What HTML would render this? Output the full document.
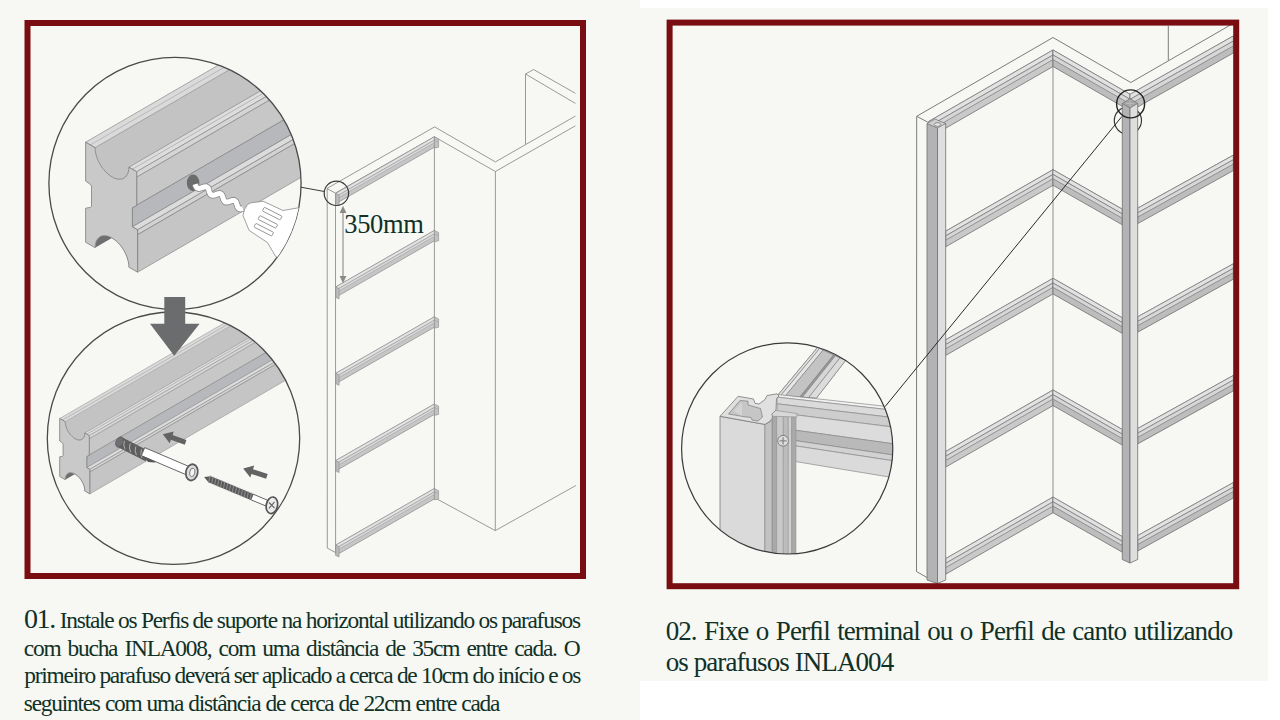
<!DOCTYPE html>
<html><head><meta charset="utf-8"><style>
html,body{margin:0;padding:0;width:1280px;height:720px;overflow:hidden;background:#f7f7f3}
svg{position:absolute;left:0;top:0}
.t{position:absolute;font-family:"Liberation Serif",serif;color:#0f3127;white-space:nowrap;line-height:1}
</style></head><body>
<svg width="1280" height="720" viewBox="0 0 1280 720">
<defs><clipPath id="c1"><circle cx="175" cy="183.4" r="126.1"/></clipPath>
<clipPath id="c2"><circle cx="173.5" cy="438.2" r="126.2"/></clipPath>
<clipPath id="c3"><circle cx="787.2" cy="448.4" r="105.6"/></clipPath></defs>
<rect x="0" y="0" width="1280" height="720" fill="#f7f7f3"/>
<rect x="640" y="0" width="640" height="8" fill="#fff"/>
<rect x="640" y="681" width="640" height="39" fill="#fff"/>
<rect x="1268" y="0" width="12" height="720" fill="#fff"/>
<g clip-path="url(#c1)">
<polygon points="128.9,267.2 128.8,264.6 128.3,261.8 127.6,259 126.6,256.1 125.4,253.3 124,250.6 122.3,247.9 120.5,245.4 118.5,243.2 116.4,241.1 114.2,239.4 112,237.9 109.8,236.8 107.6,236.1 105.6,235.7 103.6,235.7 101.7,236 100.1,236.8 98.6,237.8 97.4,239.3 96.4,241 95.7,243 95.3,245.2 95.1,247.7 371.9,87.1 376.9,76.1 405.7,106.6" fill="#6f6f6f" />
<polygon points="95.1,147.7 95.3,150.3 95.7,153.1 96.4,155.9 97.4,158.8 98.6,161.6 100.1,164.3 101.7,167 103.6,169.5 105.6,171.7 107.6,173.8 109.8,175.5 112,176.9 114.2,178.1 116.4,178.8 118.5,179.2 120.5,179.2 122.3,178.9 124,178.1 400.8,17.5 371.9,-12.9" fill="#c3c3c3" />
<polygon points="85.6,142.2 95.1,147.7 371.9,-12.9 362.4,-18.4" fill="#dadada" stroke="#8a8a8a" stroke-width="0.7" stroke-linejoin="round" />
<line x1="90.4" y1="144.9" x2="367.2" y2="-15.7" stroke="#a3a3a3" stroke-width="0.6" />
<polygon points="128.9,167.2 136.7,171.7 413.5,11.1 405.7,6.6" fill="#dddddd" stroke="#8a8a8a" stroke-width="0.7" stroke-linejoin="round" />
<polygon points="136.7,171.7 136.7,177.2 413.5,16.6 413.5,11.1" fill="#d5d5d5" stroke="#8a8a8a" stroke-width="0.7" stroke-linejoin="round" />
<line x1="132.4" y1="169.2" x2="409.2" y2="8.6" stroke="#9a9a9a" stroke-width="0.6" />
<polygon points="136.7,177.2 136.7,205.7 413.5,45.1 413.5,16.6" fill="#c7c7c7" stroke="#8a8a8a" stroke-width="0.7" stroke-linejoin="round" />
<polygon points="136.7,205.7 132.4,207.7 409.2,47.1 413.5,45.1" fill="#d0d0d0" stroke="#8a8a8a" stroke-width="0.7" stroke-linejoin="round" />
<polygon points="132.4,207.7 132.4,226.8 409.2,66.2 409.2,47.1" fill="#b6b8bb" stroke="#8a8a8a" stroke-width="0.7" stroke-linejoin="round" />
<polygon points="132.4,226.8 137.6,229.8 414.4,69.2 409.2,66.2" fill="#dcdcdc" stroke="#8a8a8a" stroke-width="0.7" stroke-linejoin="round" />
<polygon points="137.6,229.8 137.6,234.7 414.4,74.1 414.4,69.2" fill="#d3d3d3" stroke="#8a8a8a" stroke-width="0.7" stroke-linejoin="round" />
<polygon points="137.6,234.7 137.6,272.2 414.4,111.6 414.4,74.1" fill="#c5c5c5" stroke="#8a8a8a" stroke-width="0.7" stroke-linejoin="round" />
<polygon points="85.6,142.2 95.1,147.7 95.3,150.3 95.7,153.1 96.4,155.9 97.4,158.8 98.6,161.6 100.1,164.3 101.7,167 103.6,169.5 105.6,171.7 107.6,173.8 109.8,175.5 112,176.9 114.2,178.1 116.4,178.8 118.5,179.2 120.5,179.2 122.3,178.9 124,178.1 125.4,177.1 126.6,175.6 127.6,173.9 128.3,171.9 128.8,169.7 128.9,167.2 136.7,171.7 136.7,205.7 132.4,207.7 132.4,226.8 137.6,229.8 137.6,272.2 128.9,267.2 128.8,264.6 128.3,261.8 127.6,259 126.6,256.1 125.4,253.3 124,250.6 122.3,247.9 120.5,245.4 118.5,243.2 116.4,241.1 114.2,239.4 112,237.9 109.8,236.8 107.6,236.1 105.6,235.7 103.6,235.7 101.7,236 100.1,236.8 98.6,237.8 97.4,239.3 96.4,241 95.7,243 95.3,245.2 95.1,247.7 85.6,242.2 85.6,208.2 90.4,207.4 91.5,206.1 91.5,186.1 90.4,184.4 85.6,181" fill="#c9c9c9" stroke="#7d7d7d" stroke-width="0.8" stroke-linejoin="round" />
</g>
<g clip-path="url(#c2)">
<polygon points="84.8,491 84.7,489.5 84.5,487.9 84.1,486.2 83.5,484.6 82.8,482.9 81.9,481.3 81,479.8 79.9,478.4 78.8,477.1 77.6,475.9 76.3,474.9 75,474 73.7,473.4 72.5,473 71.3,472.7 70.1,472.7 69.1,472.9 68.1,473.3 67.2,474 66.5,474.8 66,475.8 65.6,477 65.3,478.3 65.2,479.7 342,319.1 344.9,312.7 361.6,330.4" fill="#6f6f6f" />
<polygon points="65.2,421.7 65.3,423.2 65.6,424.8 66,426.4 66.5,428.1 67.2,429.7 68.1,431.3 69.1,432.9 70.1,434.3 71.3,435.6 72.5,436.8 73.7,437.8 75,438.7 76.3,439.3 77.6,439.7 78.8,440 79.9,440 81,439.8 81.9,439.3 358.7,278.7 342,261.1" fill="#c3c3c3" />
<polygon points="59.7,418.5 65.2,421.7 342,261.1 336.5,257.9" fill="#dadada" stroke="#8a8a8a" stroke-width="0.5" stroke-linejoin="round" />
<line x1="62.5" y1="420.1" x2="339.3" y2="259.5" stroke="#a3a3a3" stroke-width="0.6" />
<polygon points="84.8,433 89.3,435.6 366.1,275 361.6,272.4" fill="#dddddd" stroke="#8a8a8a" stroke-width="0.5" stroke-linejoin="round" />
<polygon points="89.3,435.6 89.3,438.8 366.1,278.2 366.1,275" fill="#d5d5d5" stroke="#8a8a8a" stroke-width="0.5" stroke-linejoin="round" />
<line x1="86.8" y1="434.2" x2="363.6" y2="273.5" stroke="#9a9a9a" stroke-width="0.6" />
<polygon points="89.3,438.8 89.3,455.3 366.1,294.7 366.1,278.2" fill="#c7c7c7" stroke="#8a8a8a" stroke-width="0.5" stroke-linejoin="round" />
<polygon points="89.3,455.3 86.8,456.5 363.6,295.9 366.1,294.7" fill="#d0d0d0" stroke="#8a8a8a" stroke-width="0.5" stroke-linejoin="round" />
<polygon points="86.8,456.5 86.8,467.6 363.6,306.9 363.6,295.9" fill="#b6b8bb" stroke="#8a8a8a" stroke-width="0.5" stroke-linejoin="round" />
<polygon points="86.8,467.6 89.8,469.3 366.6,308.7 363.6,306.9" fill="#dcdcdc" stroke="#8a8a8a" stroke-width="0.5" stroke-linejoin="round" />
<polygon points="89.8,469.3 89.8,472.1 366.6,311.5 366.6,308.7" fill="#d3d3d3" stroke="#8a8a8a" stroke-width="0.5" stroke-linejoin="round" />
<polygon points="89.8,472.1 89.8,493.9 366.6,333.3 366.6,311.5" fill="#c5c5c5" stroke="#8a8a8a" stroke-width="0.5" stroke-linejoin="round" />
<polygon points="59.7,418.5 65.2,421.7 65.3,423.2 65.6,424.8 66,426.4 66.5,428.1 67.2,429.7 68.1,431.3 69.1,432.9 70.1,434.3 71.3,435.6 72.5,436.8 73.7,437.8 75,438.7 76.3,439.3 77.6,439.7 78.8,440 79.9,440 81,439.8 81.9,439.3 82.8,438.7 83.5,437.9 84.1,436.9 84.5,435.7 84.7,434.4 84.8,433 89.3,435.6 89.3,455.3 86.8,456.5 86.8,467.6 89.8,469.3 89.8,493.9 84.8,491 84.7,489.5 84.5,487.9 84.1,486.2 83.5,484.6 82.8,482.9 81.9,481.3 81,479.8 79.9,478.4 78.8,477.1 77.6,475.9 76.3,474.9 75,474 73.7,473.4 72.5,473 71.3,472.7 70.1,472.7 69.1,472.9 68.1,473.3 67.2,474 66.5,474.8 66,475.8 65.6,477 65.3,478.3 65.2,479.7 59.7,476.5 59.7,456.8 62.5,456.3 63.1,455.6 63.1,444 62.5,443 59.7,441" fill="#c9c9c9" stroke="#7d7d7d" stroke-width="0.8" stroke-linejoin="round" />
</g>
<circle cx="175" cy="183.4" r="126.1" fill="none" stroke="#4a4a4a" stroke-width="1.3"/>
<circle cx="173.5" cy="438.2" r="126.2" fill="none" stroke="#4a4a4a" stroke-width="1.3"/>
<polygon points="164.3,297 185.2,297 185.2,323.8 199.6,323.8 174.2,355.8 150,323.8 164.3,323.8" fill="#6b6c6e" />
<g clip-path="url(#c1)">
<ellipse cx="193.1" cy="182.8" rx="6.3" ry="8.3" fill="#6c6c6c"/>
<path d="M195.2 184.2 L195.4 184.9 L195.6 185.6 L195.9 186.2 L196.2 186.8 L196.5 187.3 L196.8 187.7 L197.2 188.0 L197.6 188.3 L198.1 188.4 L198.7 188.5 L199.2 188.5 L199.8 188.4 L200.5 188.2 L201.1 188.0 L201.8 187.7 L202.5 187.5 L203.2 187.2 L203.8 187.0 L204.5 186.9 L205.1 186.8 L205.7 186.7 L206.2 186.8 L206.7 186.9 L207.1 187.2 L207.5 187.5 L207.8 187.9 L208.2 188.4 L208.4 189.0 L208.7 189.7 L208.9 190.3 L209.1 191.0 L209.3 191.7 L209.6 192.4 L209.8 193.0 L210.1 193.6 L210.4 194.1 L210.7 194.5 L211.1 194.9 L211.6 195.1 L212.1 195.3 L212.6 195.3 L213.2 195.3 L213.8 195.2 L214.4 195.0 L215.1 194.8 L215.7 194.6 L216.4 194.3 L217.1 194.1 L217.8 193.8 L218.4 193.7 L219.0 193.6 L219.6 193.5 L220.1 193.6 L220.6 193.7 L221.0 194.0 L221.4 194.3 L221.8 194.8 L222.1 195.3 L222.3 195.8 L222.6 196.5 L222.8 197.2 L223.0 197.8 L223.3 198.5 L223.5 199.2 L223.7 199.8 L224.0 200.4 L224.3 200.9 L224.7 201.3 L225.0 201.7 L225.5 201.9 L226.0 202.1 L226.5 202.1 L227.1 202.1 L227.7 202.0 L228.3 201.8 L229.0 201.6 L229.7 201.4 L230.3 201.1 L231.0 200.9 L231.7 200.7 L232.3 200.5 L232.9 200.4 L233.5 200.4 L234.0 200.4 L234.5 200.6 L234.9 200.8 L235.3 201.2 L235.7 201.6 L236.0 202.1 L236.3 202.7 L236.5 203.3 L236.7 204.0 L237.0 204.7 L237.2 205.4 L237.4 206.0 L237.6 206.7 L237.9 207.2 L238.2 207.7 L238.6 208.2 L239.0 208.5 L239.4 208.8 L239.9 208.9 L240.4 209.0 L241.0 208.9 L241.6 208.8 L242.2 208.7 L242.9 208.4" fill="none" stroke="#8a8a8a" stroke-width="6.6" stroke-linejoin="round"/>
<path d="M195.2 184.2 L195.4 184.9 L195.6 185.6 L195.9 186.2 L196.2 186.8 L196.5 187.3 L196.8 187.7 L197.2 188.0 L197.6 188.3 L198.1 188.4 L198.7 188.5 L199.2 188.5 L199.8 188.4 L200.5 188.2 L201.1 188.0 L201.8 187.7 L202.5 187.5 L203.2 187.2 L203.8 187.0 L204.5 186.9 L205.1 186.8 L205.7 186.7 L206.2 186.8 L206.7 186.9 L207.1 187.2 L207.5 187.5 L207.8 187.9 L208.2 188.4 L208.4 189.0 L208.7 189.7 L208.9 190.3 L209.1 191.0 L209.3 191.7 L209.6 192.4 L209.8 193.0 L210.1 193.6 L210.4 194.1 L210.7 194.5 L211.1 194.9 L211.6 195.1 L212.1 195.3 L212.6 195.3 L213.2 195.3 L213.8 195.2 L214.4 195.0 L215.1 194.8 L215.7 194.6 L216.4 194.3 L217.1 194.1 L217.8 193.8 L218.4 193.7 L219.0 193.6 L219.6 193.5 L220.1 193.6 L220.6 193.7 L221.0 194.0 L221.4 194.3 L221.8 194.8 L222.1 195.3 L222.3 195.8 L222.6 196.5 L222.8 197.2 L223.0 197.8 L223.3 198.5 L223.5 199.2 L223.7 199.8 L224.0 200.4 L224.3 200.9 L224.7 201.3 L225.0 201.7 L225.5 201.9 L226.0 202.1 L226.5 202.1 L227.1 202.1 L227.7 202.0 L228.3 201.8 L229.0 201.6 L229.7 201.4 L230.3 201.1 L231.0 200.9 L231.7 200.7 L232.3 200.5 L232.9 200.4 L233.5 200.4 L234.0 200.4 L234.5 200.6 L234.9 200.8 L235.3 201.2 L235.7 201.6 L236.0 202.1 L236.3 202.7 L236.5 203.3 L236.7 204.0 L237.0 204.7 L237.2 205.4 L237.4 206.0 L237.6 206.7 L237.9 207.2 L238.2 207.7 L238.6 208.2 L239.0 208.5 L239.4 208.8 L239.9 208.9 L240.4 209.0 L241.0 208.9 L241.6 208.8 L242.2 208.7 L242.9 208.4" fill="none" stroke="#ffffff" stroke-width="5" stroke-linejoin="round"/>
<polygon points="244.5,209.5 247.5,204.5 251,202.8 263,201.2 283,210.5 300,207.5 304,262 276,257 267.5,242.6 249.1,230.4 243,215.5" fill="#ffffff" stroke="#8a8a8a" stroke-width="0.8" stroke-linejoin="round" />
<rect x="262.2" y="211.5" width="20" height="4.2" rx="0.8" fill="#fff" stroke="#8a8a8a" stroke-width="0.8" transform="rotate(27 272.2 213.6)"/>
<rect x="257.8" y="219.8" width="20" height="4.2" rx="0.8" fill="#fff" stroke="#8a8a8a" stroke-width="0.8" transform="rotate(27 267.8 221.9)"/>
<rect x="253.8" y="227.6" width="20" height="4.2" rx="0.8" fill="#fff" stroke="#8a8a8a" stroke-width="0.8" transform="rotate(27 263.8 229.7)"/>
</g>
<g clip-path="url(#c2)">
<polygon points="117.1,446.7 145.6,461.2 150.4,451.8 121.9,437.3" fill="#5e5e5e" />
<ellipse cx="119.5" cy="442" rx="3.6" ry="5.4" fill="#707070" stroke="#555" stroke-width="0.6" transform="rotate(25 119.5 442)"/>
<path d="M124.4 440.7 q -1.6 4.2 0.6 8.6" fill="none" stroke="#b0b0b0" stroke-width="1" />
<path d="M130.1 443.6 q -1.6 4.2 0.6 8.6" fill="none" stroke="#b0b0b0" stroke-width="1" />
<path d="M135.8 446.5 q -1.6 4.2 0.6 8.6" fill="none" stroke="#b0b0b0" stroke-width="1" />
<path d="M141.5 449.4 q -1.6 4.2 0.6 8.6" fill="none" stroke="#b0b0b0" stroke-width="1" />
<polygon points="142,454 150,451 160,456 155,462.5 148,462" fill="#555" />
<polygon points="141.3,455.6 189.8,476.3 193.2,468.3 144.7,447.6" fill="#ffffff" stroke="#555" stroke-width="0.9" stroke-linejoin="round" />
<ellipse cx="191.8" cy="472.4" rx="5.9" ry="8.2" fill="#dcdcdc" stroke="#5a5a5a" stroke-width="1.8" transform="rotate(12 191.8 472.4)"/>
<ellipse cx="192.3" cy="472.4" rx="2.6" ry="4.3" fill="#f4f4f4" stroke="#777" stroke-width="0.9" transform="rotate(12 192.3 472.4)"/>
<polygon points="186.4,439.9 172.6,435.1 173.8,431.5 162.8,434.3 169.7,443.3 170.9,439.8 184.8,444.7" fill="#636363" />
<polygon points="204.1,476.9 210.9,476.3 253.4,493.9 250.7,500.1 208.4,482.2" fill="#5a5a5a" />
<line x1="210.2" y1="475.3" x2="208.5" y2="482.9" stroke="#9c9c9c" stroke-width="0.8" />
<line x1="213.1" y1="476.6" x2="211.5" y2="484.1" stroke="#9c9c9c" stroke-width="0.8" />
<line x1="216.1" y1="477.8" x2="214.4" y2="485.4" stroke="#9c9c9c" stroke-width="0.8" />
<line x1="219" y1="479" x2="217.4" y2="486.6" stroke="#9c9c9c" stroke-width="0.8" />
<line x1="222" y1="480.3" x2="220.3" y2="487.8" stroke="#9c9c9c" stroke-width="0.8" />
<line x1="224.9" y1="481.5" x2="223.3" y2="489.1" stroke="#9c9c9c" stroke-width="0.8" />
<line x1="227.9" y1="482.7" x2="226.2" y2="490.3" stroke="#9c9c9c" stroke-width="0.8" />
<line x1="230.8" y1="484" x2="229.2" y2="491.5" stroke="#9c9c9c" stroke-width="0.8" />
<line x1="233.8" y1="485.2" x2="232.1" y2="492.8" stroke="#9c9c9c" stroke-width="0.8" />
<line x1="236.7" y1="486.5" x2="235.1" y2="494" stroke="#9c9c9c" stroke-width="0.8" />
<line x1="239.7" y1="487.7" x2="238.1" y2="495.2" stroke="#9c9c9c" stroke-width="0.8" />
<line x1="242.6" y1="488.9" x2="241" y2="496.5" stroke="#9c9c9c" stroke-width="0.8" />
<line x1="245.6" y1="490.2" x2="244" y2="497.7" stroke="#9c9c9c" stroke-width="0.8" />
<line x1="248.5" y1="491.4" x2="246.9" y2="498.9" stroke="#9c9c9c" stroke-width="0.8" />
<line x1="251.5" y1="492.6" x2="249.9" y2="500.2" stroke="#9c9c9c" stroke-width="0.8" />
<polygon points="253.2,494.2 268,500.4 265.7,505.9 250.9,499.8" fill="#ffffff" stroke="#555" stroke-width="0.9" stroke-linejoin="round" />
<ellipse cx="271.9" cy="505.3" rx="5.6" ry="8.4" fill="#ececec" stroke="#555" stroke-width="1.7" transform="rotate(12 271.9 505.3)"/>
<path d="M269 502.5 l5.5 5.5 M274.5 501.8 l-5.5 6.5" stroke="#6a6a6a" stroke-width="1.2"/>
<polygon points="267.7,474 253,469.2 254.2,465.6 243.2,468.6 250.3,477.5 251.4,473.9 266.1,478.8" fill="#636363" />
</g>
<line x1="326.9" y1="188.5" x2="434.6" y2="126.9" stroke="#8e8e8e" stroke-width="0.9" />
<line x1="326.9" y1="188.5" x2="335.4" y2="193.1" stroke="#8e8e8e" stroke-width="0.9" />
<line x1="335.4" y1="193.1" x2="434.4" y2="136.8" stroke="#8e8e8e" stroke-width="0.9" />
<line x1="327.2" y1="188.5" x2="327.3" y2="548.1" stroke="#8e8e8e" stroke-width="0.9" />
<line x1="335.5" y1="193.1" x2="335.6" y2="552.6" stroke="#8e8e8e" stroke-width="0.9" />
<line x1="327.3" y1="548.1" x2="335.6" y2="552.6" stroke="#8e8e8e" stroke-width="0.9" />
<line x1="335.6" y1="552.6" x2="434.4" y2="497.6" stroke="#8e8e8e" stroke-width="0.9" />
<line x1="434.4" y1="136.8" x2="434.4" y2="497.6" stroke="#8e8e8e" stroke-width="0.9" />
<line x1="434.6" y1="126.9" x2="495.4" y2="161.9" stroke="#8e8e8e" stroke-width="0.9" />
<line x1="434.4" y1="136.8" x2="495.4" y2="171.5" stroke="#8e8e8e" stroke-width="0.9" />
<line x1="434.4" y1="497.6" x2="495.3" y2="530.6" stroke="#8e8e8e" stroke-width="0.9" />
<line x1="495.4" y1="171.5" x2="495.3" y2="530.6" stroke="#8e8e8e" stroke-width="0.9" />
<line x1="495.4" y1="161.9" x2="575.4" y2="116.1" stroke="#8e8e8e" stroke-width="0.9" />
<line x1="495.4" y1="171.5" x2="575.4" y2="125.8" stroke="#8e8e8e" stroke-width="0.9" />
<line x1="495.3" y1="530.6" x2="575.9" y2="485.5" stroke="#8e8e8e" stroke-width="0.9" />
<line x1="525.5" y1="74" x2="525.5" y2="144.6" stroke="#8e8e8e" stroke-width="0.9" />
<line x1="525.5" y1="74" x2="533.6" y2="69.5" stroke="#8e8e8e" stroke-width="0.9" />
<line x1="533.6" y1="69.5" x2="575.4" y2="93.3" stroke="#8e8e8e" stroke-width="0.9" />
<line x1="525.5" y1="74" x2="575.4" y2="103.4" stroke="#8e8e8e" stroke-width="0.9" />
<polygon points="335.8,193.3 434.4,136.8 434.4,147.2 335.8,203.7" fill="#c6c6c6" stroke="#8c8c8c" stroke-width="0.7" stroke-linejoin="round" />
<polygon points="335.8,193.3 434.4,136.8 434.4,140.2 335.8,196.7" fill="#e3e3e3" stroke="#8c8c8c" stroke-width="0.6" stroke-linejoin="round" />
<polygon points="335.8,196.7 434.4,140.2 434.4,142.8 335.8,199.3" fill="#d8d8d8" stroke="#999" stroke-width="0.5" stroke-linejoin="round" />
<polygon points="434.4,136.8 438.6,139 438.6,147.2 434.4,148.2" fill="#c2c2c2" stroke="#8c8c8c" stroke-width="0.6" stroke-linejoin="round" />
<line x1="434.4" y1="140.2" x2="438.6" y2="142.2" stroke="#999" stroke-width="0.5" />
<polygon points="335.8,193.3 339.1,195.1 339.1,205.3 335.8,203.7" fill="#bcbcbc" stroke="#8c8c8c" stroke-width="0.6" stroke-linejoin="round" />
<polygon points="335.8,286.9 434.4,230.4 434.4,240.8 335.8,297.3" fill="#c6c6c6" stroke="#8c8c8c" stroke-width="0.7" stroke-linejoin="round" />
<polygon points="335.8,286.9 434.4,230.4 434.4,233.8 335.8,290.3" fill="#e3e3e3" stroke="#8c8c8c" stroke-width="0.6" stroke-linejoin="round" />
<polygon points="335.8,290.3 434.4,233.8 434.4,236.4 335.8,292.9" fill="#d8d8d8" stroke="#999" stroke-width="0.5" stroke-linejoin="round" />
<polygon points="434.4,230.4 438.6,232.6 438.6,240.8 434.4,241.8" fill="#c2c2c2" stroke="#8c8c8c" stroke-width="0.6" stroke-linejoin="round" />
<line x1="434.4" y1="233.8" x2="438.6" y2="235.8" stroke="#999" stroke-width="0.5" />
<polygon points="335.8,286.9 339.1,288.7 339.1,298.9 335.8,297.3" fill="#bcbcbc" stroke="#8c8c8c" stroke-width="0.6" stroke-linejoin="round" />
<polygon points="335.8,373.3 434.4,316.8 434.4,327.2 335.8,383.7" fill="#c6c6c6" stroke="#8c8c8c" stroke-width="0.7" stroke-linejoin="round" />
<polygon points="335.8,373.3 434.4,316.8 434.4,320.2 335.8,376.7" fill="#e3e3e3" stroke="#8c8c8c" stroke-width="0.6" stroke-linejoin="round" />
<polygon points="335.8,376.7 434.4,320.2 434.4,322.8 335.8,379.3" fill="#d8d8d8" stroke="#999" stroke-width="0.5" stroke-linejoin="round" />
<polygon points="434.4,316.8 438.6,319 438.6,327.2 434.4,328.2" fill="#c2c2c2" stroke="#8c8c8c" stroke-width="0.6" stroke-linejoin="round" />
<line x1="434.4" y1="320.2" x2="438.6" y2="322.2" stroke="#999" stroke-width="0.5" />
<polygon points="335.8,373.3 339.1,375.1 339.1,385.3 335.8,383.7" fill="#bcbcbc" stroke="#8c8c8c" stroke-width="0.6" stroke-linejoin="round" />
<polygon points="335.8,460.5 434.4,404 434.4,414.4 335.8,470.9" fill="#c6c6c6" stroke="#8c8c8c" stroke-width="0.7" stroke-linejoin="round" />
<polygon points="335.8,460.5 434.4,404 434.4,407.4 335.8,463.9" fill="#e3e3e3" stroke="#8c8c8c" stroke-width="0.6" stroke-linejoin="round" />
<polygon points="335.8,463.9 434.4,407.4 434.4,410 335.8,466.5" fill="#d8d8d8" stroke="#999" stroke-width="0.5" stroke-linejoin="round" />
<polygon points="434.4,404 438.6,406.2 438.6,414.4 434.4,415.4" fill="#c2c2c2" stroke="#8c8c8c" stroke-width="0.6" stroke-linejoin="round" />
<line x1="434.4" y1="407.4" x2="438.6" y2="409.4" stroke="#999" stroke-width="0.5" />
<polygon points="335.8,460.5 339.1,462.3 339.1,472.5 335.8,470.9" fill="#bcbcbc" stroke="#8c8c8c" stroke-width="0.6" stroke-linejoin="round" />
<polygon points="335.8,545 434.4,488.5 434.4,498.9 335.8,555.4" fill="#c6c6c6" stroke="#8c8c8c" stroke-width="0.7" stroke-linejoin="round" />
<polygon points="335.8,545 434.4,488.5 434.4,491.9 335.8,548.4" fill="#e3e3e3" stroke="#8c8c8c" stroke-width="0.6" stroke-linejoin="round" />
<polygon points="335.8,548.4 434.4,491.9 434.4,494.5 335.8,551" fill="#d8d8d8" stroke="#999" stroke-width="0.5" stroke-linejoin="round" />
<polygon points="434.4,488.5 438.6,490.7 438.6,498.9 434.4,499.9" fill="#c2c2c2" stroke="#8c8c8c" stroke-width="0.6" stroke-linejoin="round" />
<line x1="434.4" y1="491.9" x2="438.6" y2="493.9" stroke="#999" stroke-width="0.5" />
<polygon points="335.8,545 339.1,546.8 339.1,557 335.8,555.4" fill="#bcbcbc" stroke="#8c8c8c" stroke-width="0.6" stroke-linejoin="round" />
<line x1="343" y1="211" x2="343" y2="278" stroke="#8a8a8a" stroke-width="1.1" />
<polygon points="343,205.8 339.6,213 346.4,213" fill="#8a8a8a" />
<polygon points="343,283.3 339.6,276 346.4,276" fill="#8a8a8a" />
<circle cx="336.4" cy="193.3" r="12.2" fill="none" stroke="#3a3a3a" stroke-width="1.2"/>
<line x1="300.9" y1="187.2" x2="324.4" y2="191.5" stroke="#3a3a3a" stroke-width="1" />
<rect x="27.5" y="23" width="555.5" height="553" fill="none" stroke="#7a0d12" stroke-width="6"/>
<line x1="916.7" y1="116.3" x2="1053" y2="37.5" stroke="#7c7c7c" stroke-width="1.0" />
<line x1="1053" y1="37.5" x2="1130.8" y2="82.5" stroke="#7c7c7c" stroke-width="1.0" />
<line x1="1130.8" y1="82.5" x2="1233" y2="23.5" stroke="#7c7c7c" stroke-width="1.0" />
<line x1="916.7" y1="116.3" x2="927.5" y2="122" stroke="#7c7c7c" stroke-width="1.0" />
<line x1="916.7" y1="116.3" x2="916.5" y2="571.5" stroke="#7c7c7c" stroke-width="1.0" />
<line x1="916.5" y1="571.5" x2="937.2" y2="583.4" stroke="#7c7c7c" stroke-width="1.0" />
<line x1="1168.3" y1="25.8" x2="1168.3" y2="60.5" stroke="#7c7c7c" stroke-width="1.0" />
<line x1="1053" y1="60" x2="1053" y2="500" stroke="#b5b5b5" stroke-width="1.6" />
<polygon points="928.3,121.7 1053,50 1053,66.5 928.3,138.2" fill="#c9c9c9" stroke="#707070" stroke-width="0.8" stroke-linejoin="round" />
<polygon points="928.3,121.7 1053,50 1053,55 928.3,126.7" fill="#e2e2e2" stroke="#777" stroke-width="0.7" stroke-linejoin="round" />
<polygon points="928.3,126.7 1053,55 1053,59.6 928.3,131.3" fill="#d7d7d7" stroke="#777" stroke-width="0.7" stroke-linejoin="round" />
<polygon points="1053,50 1130,94.3 1130,110.8 1053,66.5" fill="#bdbdbd" stroke="#707070" stroke-width="0.8" stroke-linejoin="round" />
<polygon points="1053,50 1130,94.3 1130,99.2 1053,55" fill="#e2e2e2" stroke="#777" stroke-width="0.7" stroke-linejoin="round" />
<polygon points="1053,55 1130,99.2 1130,103.9 1053,59.6" fill="#d7d7d7" stroke="#777" stroke-width="0.7" stroke-linejoin="round" />
<polygon points="1130,94.3 1233.3,36 1233.3,53 1130,111.3" fill="#bdbdbd" stroke="#707070" stroke-width="0.8" stroke-linejoin="round" />
<polygon points="1130,94.3 1233.3,36 1233.3,41.1 1130,99.4" fill="#e2e2e2" stroke="#777" stroke-width="0.7" stroke-linejoin="round" />
<polygon points="1130,99.4 1233.3,41.1 1233.3,45.9 1130,104.2" fill="#d7d7d7" stroke="#777" stroke-width="0.7" stroke-linejoin="round" />
<polygon points="945.7,231.2 1053,169.7 1053,185.3 945.7,246.8" fill="#c9c9c9" stroke="#707070" stroke-width="0.8" stroke-linejoin="round" />
<polygon points="945.7,231.2 1053,169.7 1053,174.4 945.7,235.9" fill="#e2e2e2" stroke="#777" stroke-width="0.7" stroke-linejoin="round" />
<polygon points="945.7,235.9 1053,174.4 1053,178.7 945.7,240.2" fill="#d7d7d7" stroke="#777" stroke-width="0.7" stroke-linejoin="round" />
<polygon points="1053,169.7 1122.3,209.2 1122.3,224.8 1053,185.3" fill="#bdbdbd" stroke="#707070" stroke-width="0.8" stroke-linejoin="round" />
<polygon points="1053,169.7 1122.3,209.2 1122.3,213.9 1053,174.4" fill="#e2e2e2" stroke="#777" stroke-width="0.7" stroke-linejoin="round" />
<polygon points="1053,174.4 1122.3,213.9 1122.3,218.2 1053,178.7" fill="#d7d7d7" stroke="#777" stroke-width="0.7" stroke-linejoin="round" />
<polygon points="1137.7,208.2 1233.3,155.2 1233.3,170.6 1137.7,223.6" fill="#bdbdbd" stroke="#707070" stroke-width="0.8" stroke-linejoin="round" />
<polygon points="1137.7,208.2 1233.3,155.2 1233.3,159.8 1137.7,212.8" fill="#e2e2e2" stroke="#777" stroke-width="0.7" stroke-linejoin="round" />
<polygon points="1137.7,212.8 1233.3,159.8 1233.3,164.1 1137.7,217.1" fill="#d7d7d7" stroke="#777" stroke-width="0.7" stroke-linejoin="round" />
<polygon points="945.7,339.8 1053,278.3 1053,293.9 945.7,355.4" fill="#c9c9c9" stroke="#707070" stroke-width="0.8" stroke-linejoin="round" />
<polygon points="945.7,339.8 1053,278.3 1053,283 945.7,344.5" fill="#e2e2e2" stroke="#777" stroke-width="0.7" stroke-linejoin="round" />
<polygon points="945.7,344.5 1053,283 1053,287.3 945.7,348.8" fill="#d7d7d7" stroke="#777" stroke-width="0.7" stroke-linejoin="round" />
<polygon points="1053,278.3 1122.3,317.8 1122.3,333.4 1053,293.9" fill="#bdbdbd" stroke="#707070" stroke-width="0.8" stroke-linejoin="round" />
<polygon points="1053,278.3 1122.3,317.8 1122.3,322.5 1053,283" fill="#e2e2e2" stroke="#777" stroke-width="0.7" stroke-linejoin="round" />
<polygon points="1053,283 1122.3,322.5 1122.3,326.8 1053,287.3" fill="#d7d7d7" stroke="#777" stroke-width="0.7" stroke-linejoin="round" />
<polygon points="1137.7,316.8 1233.3,263.8 1233.3,279.2 1137.7,332.2" fill="#bdbdbd" stroke="#707070" stroke-width="0.8" stroke-linejoin="round" />
<polygon points="1137.7,316.8 1233.3,263.8 1233.3,268.4 1137.7,321.4" fill="#e2e2e2" stroke="#777" stroke-width="0.7" stroke-linejoin="round" />
<polygon points="1137.7,321.4 1233.3,268.4 1233.3,272.7 1137.7,325.7" fill="#d7d7d7" stroke="#777" stroke-width="0.7" stroke-linejoin="round" />
<polygon points="945.7,451.5 1053,390 1053,405.6 945.7,467.1" fill="#c9c9c9" stroke="#707070" stroke-width="0.8" stroke-linejoin="round" />
<polygon points="945.7,451.5 1053,390 1053,394.7 945.7,456.2" fill="#e2e2e2" stroke="#777" stroke-width="0.7" stroke-linejoin="round" />
<polygon points="945.7,456.2 1053,394.7 1053,399 945.7,460.5" fill="#d7d7d7" stroke="#777" stroke-width="0.7" stroke-linejoin="round" />
<polygon points="1053,390 1122.3,429.5 1122.3,445.1 1053,405.6" fill="#bdbdbd" stroke="#707070" stroke-width="0.8" stroke-linejoin="round" />
<polygon points="1053,390 1122.3,429.5 1122.3,434.2 1053,394.7" fill="#e2e2e2" stroke="#777" stroke-width="0.7" stroke-linejoin="round" />
<polygon points="1053,394.7 1122.3,434.2 1122.3,438.5 1053,399" fill="#d7d7d7" stroke="#777" stroke-width="0.7" stroke-linejoin="round" />
<polygon points="1137.7,428.5 1233.3,375.5 1233.3,390.9 1137.7,443.9" fill="#bdbdbd" stroke="#707070" stroke-width="0.8" stroke-linejoin="round" />
<polygon points="1137.7,428.5 1233.3,375.5 1233.3,380.1 1137.7,433.1" fill="#e2e2e2" stroke="#777" stroke-width="0.7" stroke-linejoin="round" />
<polygon points="1137.7,433.1 1233.3,380.1 1233.3,384.4 1137.7,437.4" fill="#d7d7d7" stroke="#777" stroke-width="0.7" stroke-linejoin="round" />
<polygon points="945.7,558.6 1053,497.1 1053,512.7 945.7,574.2" fill="#c9c9c9" stroke="#707070" stroke-width="0.8" stroke-linejoin="round" />
<polygon points="945.7,558.6 1053,497.1 1053,501.8 945.7,563.3" fill="#e2e2e2" stroke="#777" stroke-width="0.7" stroke-linejoin="round" />
<polygon points="945.7,563.3 1053,501.8 1053,506.1 945.7,567.6" fill="#d7d7d7" stroke="#777" stroke-width="0.7" stroke-linejoin="round" />
<polygon points="1053,497.1 1122.3,536.6 1122.3,552.2 1053,512.7" fill="#bdbdbd" stroke="#707070" stroke-width="0.8" stroke-linejoin="round" />
<polygon points="1053,497.1 1122.3,536.6 1122.3,541.3 1053,501.8" fill="#e2e2e2" stroke="#777" stroke-width="0.7" stroke-linejoin="round" />
<polygon points="1053,501.8 1122.3,541.3 1122.3,545.6 1053,506.1" fill="#d7d7d7" stroke="#777" stroke-width="0.7" stroke-linejoin="round" />
<polygon points="1137.7,535.6 1233.3,482.6 1233.3,498 1137.7,551" fill="#bdbdbd" stroke="#707070" stroke-width="0.8" stroke-linejoin="round" />
<polygon points="1137.7,535.6 1233.3,482.6 1233.3,487.2 1137.7,540.2" fill="#e2e2e2" stroke="#777" stroke-width="0.7" stroke-linejoin="round" />
<polygon points="1137.7,540.2 1233.3,487.2 1233.3,491.5 1137.7,544.5" fill="#d7d7d7" stroke="#777" stroke-width="0.7" stroke-linejoin="round" />
<circle cx="1127.9" cy="120.6" r="13.6" fill="none" stroke="#3a3a3a" stroke-width="1.2"/>
<polygon points="927,123.5 937.5,123.5 937.5,583.5 927,580" fill="#b3b3b5" stroke="#6f6f6f" stroke-width="0.8" stroke-linejoin="round" />
<polygon points="937.5,123.5 945.7,123.5 945.7,580 937.5,583.5" fill="#dedede" stroke="#6f6f6f" stroke-width="0.8" stroke-linejoin="round" />
<polygon points="1122.3,103.5 1130,103.5 1130,563 1122.3,559.5" fill="#b3b3b5" stroke="#6f6f6f" stroke-width="0.8" stroke-linejoin="round" />
<polygon points="1130,103.5 1137.7,103.5 1137.7,559.5 1130,563" fill="#dedede" stroke="#6f6f6f" stroke-width="0.8" stroke-linejoin="round" />
<polygon points="927,123.5 935,119 945.7,123.5 937.5,128" fill="#cfcfcf" stroke="#6f6f6f" stroke-width="0.7" stroke-linejoin="round" />
<ellipse cx="937.5" cy="124.5" rx="3.2" ry="1.8" fill="#e8e8e8" stroke="#666" stroke-width="0.7"/>
<polygon points="1122.3,103.5 1130,98.5 1137.7,103.5 1130,108" fill="#a5a5a5" stroke="#6f6f6f" stroke-width="0.7" stroke-linejoin="round" />
<path d="M1126 103.5h8M1130 100.5v6" stroke="#bdbdbd" stroke-width="0.8"/>
<circle cx="1130.6" cy="103.9" r="14" fill="none" stroke="#222" stroke-width="1.4"/>
<line x1="1121.7" y1="116.7" x2="885" y2="406.7" stroke="#2a2a2a" stroke-width="1.0" />
<g clip-path="url(#c3)">
<polygon points="777.5,395.5 817.5,347.5 845.5,360.5 816.5,398" fill="#c4c4c4" stroke="#707070" stroke-width="0.8" stroke-linejoin="round" />
<polygon points="777.5,395.5 817.5,347.5 819.7,348.5 780.6,395.7" fill="#dedede" stroke="#7d7d7d" stroke-width="0.6" stroke-linejoin="round" />
<polygon points="780.6,395.7 819.7,348.5 823.1,350.1 785.3,396" fill="#e6e6e6" stroke="#7d7d7d" stroke-width="0.6" stroke-linejoin="round" />
<polygon points="785.3,396 823.1,350.1 833.7,355 800.1,396.9" fill="#c3c3c3" stroke="#7d7d7d" stroke-width="0.6" stroke-linejoin="round" />
<polygon points="800.1,396.9 833.7,355 835.4,355.8 802.5,397.1" fill="#9a9a9a" stroke="#707070" stroke-width="0.5" stroke-linejoin="round" />
<polygon points="802.5,397.1 835.4,355.8 839.9,357.9 808.7,397.5" fill="#d6d6d6" stroke="#7d7d7d" stroke-width="0.6" stroke-linejoin="round" />
<polygon points="808.7,397.5 839.9,357.9 845.5,360.5 816.5,398" fill="#dcdcdc" stroke="#7d7d7d" stroke-width="0.6" stroke-linejoin="round" />
<polygon points="777,394.4 900,407.9 900,411 777,397.1" fill="#f2f2f2" stroke="#8a8a8a" stroke-width="0.7" stroke-linejoin="round" />
<polygon points="777,397.1 900,411 900,418.4 777,403.8" fill="#dadada" stroke="#8a8a8a" stroke-width="0.7" stroke-linejoin="round" />
<polygon points="777,403.8 900,418.4 900,427.9 777,412.5" fill="#cdcdcd" stroke="#8a8a8a" stroke-width="0.7" stroke-linejoin="round" />
<polygon points="777,412.5 900,427.9 900,444.7 777,427.7" fill="#dcdcdc" stroke="#8a8a8a" stroke-width="0.7" stroke-linejoin="round" />
<polygon points="777,427.7 900,444.7 900,456 777,437.9" fill="#b9b9b9" stroke="#8a8a8a" stroke-width="0.7" stroke-linejoin="round" />
<polygon points="777,437.9 900,456 900,461.8 777,443.1" fill="#d2d2d2" stroke="#8a8a8a" stroke-width="0.7" stroke-linejoin="round" />
<polygon points="777,443.1 900,461.8 900,478.8 777,458.5" fill="#dadada" stroke="#8a8a8a" stroke-width="0.7" stroke-linejoin="round" />
<polygon points="764.2,413.5 768.3,413.5 768.3,560 764.2,560" fill="#bababa" stroke="#8a8a8a" stroke-width="0.5" stroke-linejoin="round" />
<polygon points="768.3,413.5 772.5,413.5 772.5,560 768.3,560" fill="#cfcfcf" stroke="#8a8a8a" stroke-width="0.5" stroke-linejoin="round" />
<polygon points="772.5,413.5 776.7,413.5 776.7,560 772.5,560" fill="#a9a9a9" stroke="#8a8a8a" stroke-width="0.5" stroke-linejoin="round" />
<polygon points="776.7,413.5 783.3,413.5 783.3,560 776.7,560" fill="#c9c9c9" stroke="#8a8a8a" stroke-width="0.5" stroke-linejoin="round" />
<polygon points="783.3,413.5 788.3,413.5 788.3,560 783.3,560" fill="#bcbcbc" stroke="#8a8a8a" stroke-width="0.5" stroke-linejoin="round" />
<polygon points="788.3,413.5 791.7,413.5 791.7,560 788.3,560" fill="#d0d0d0" stroke="#8a8a8a" stroke-width="0.5" stroke-linejoin="round" />
<polygon points="791.7,413.5 796,413.5 796,560 791.7,560" fill="#a9a9a9" stroke="#8a8a8a" stroke-width="0.5" stroke-linejoin="round" />
<polygon points="764,412 776,410.5 797,413.5 797,417 764,416" fill="#d8d8d8" stroke="#8a8a8a" stroke-width="0.6" stroke-linejoin="round" />
<circle cx="783.1" cy="440.8" r="5.4" fill="#dcdcdc" stroke="#777" stroke-width="0.9"/>
<path d="M783.1 437.2v7.2M779.5 440.8h7.2" stroke="#888" stroke-width="1.3"/>
<polygon points="720,416.3 765,424.4 765,560 720,560" fill="#dadada" stroke="#7a7a7a" stroke-width="0.8" stroke-linejoin="round" />
<polygon points="765,424.4 772,420.5 772,560 765,560" fill="#c2c2c2" stroke="#8a8a8a" stroke-width="0.6" stroke-linejoin="round" />
<polygon points="720,416.3 738.1,396.3 753.5,399 755,403.3 759,404 765,399.5 767,395.5 777,393.8 779,396 776.5,398.5 776,410 772,414 772.5,417.5 770,421.3 765,424.4" fill="#e0e0e0" stroke="#7a7a7a" stroke-width="0.8" stroke-linejoin="round" />
<polygon points="728.5,414 740,400.5 748,401.2 748,405 760.5,408.5 762.5,417 758,421 752,420 751,417.5 747,417 745,416.8" fill="#c6c6c6" stroke="#7a7a7a" stroke-width="0.7" stroke-linejoin="round" />
<polygon points="734,411 742,402 742,416" fill="#d4d4d4" />
</g>
<circle cx="787.2" cy="448.4" r="105.6" fill="none" stroke="#3a3a3a" stroke-width="1.2"/>
<rect x="669.6" y="22.6" width="566.6" height="563.6" fill="none" stroke="#7a0d12" stroke-width="6"/>
</svg>
<span class="t" style="left:59.8px;top:609.0px;font-size:23.4px;letter-spacing:-1.24px;word-spacing:-0.03px">Instale os Perﬁs de suporte na horizontal utilizando os parafusos</span><span class="t" style="left:23.8px;top:636.7px;font-size:23.4px;letter-spacing:-1.24px;word-spacing:2.62px">com bucha INLA008, com uma distância de 35cm entre cada. O</span><span class="t" style="left:24.3px;top:664.4px;font-size:23.4px;letter-spacing:-1.24px;word-spacing:-0.13px">primeiro parafuso deverá ser aplicado a cerca de 10cm do início e os</span><span class="t" style="left:23.8px;top:691.7px;font-size:23.4px;letter-spacing:-1.24px;word-spacing:0.58px">seguintes com uma distância de cerca de 22cm entre cada</span><span class="t" style="left:24.0px;top:605.1px;font-size:28px;letter-spacing:-1.4px;word-spacing:0px">01.</span><span class="t" style="left:665.7px;top:617.7px;font-size:27px;letter-spacing:-0.92px;word-spacing:1.6px">02. Fixe o Perﬁl terminal ou o Perﬁl de canto utilizando</span><span class="t" style="left:665.7px;top:649.0px;font-size:27px;letter-spacing:-0.92px;word-spacing:0px">os parafusos INLA004</span><span class="t" style="left:344.2px;top:210.8px;font-size:26.5px;letter-spacing:-0.3px;word-spacing:0px">350mm</span>
</body></html>
